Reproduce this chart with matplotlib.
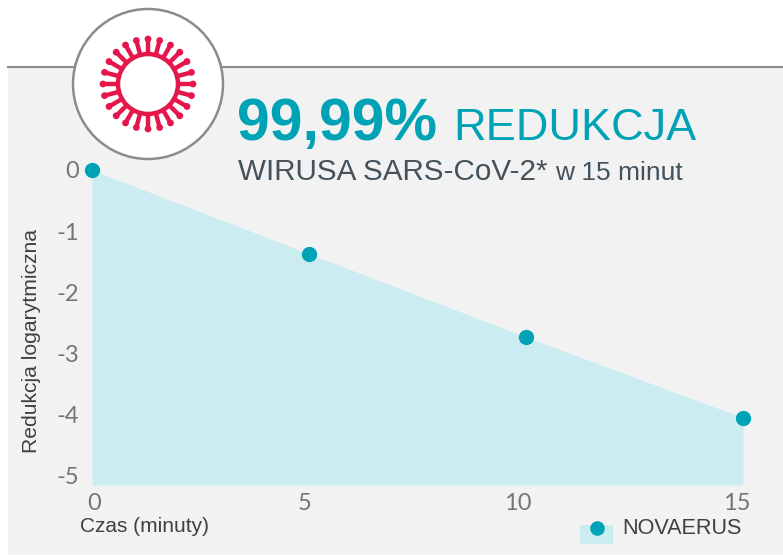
import matplotlib
matplotlib.use("Agg")
import matplotlib.pyplot as plt
import numpy as np
from matplotlib.patches import Circle, Rectangle
from matplotlib.transforms import ScaledTranslation

# data
minutes = [0, 5, 10, 15]
log_reduction = [0, -1.37, -2.73, -4.05]
y_ticks = [0, -1, -2, -3, -4, -5]
y_tick_labels = ["0", "-1", "-2", "-3", "-4", "-5"]
x_tick_labels = ["0", "5", "10", "15"]

W, H = 783, 557
TEAL = "#00A3B5"
FILL = "#CBECF1"
BG = "#F2F2F2"
TEXT = "#404040"
TICK = "#757575"
RED = "#E5174A"


def px_axes(fig, left, top, right, bottom):
    # axes placed by pixel edges of the reference
    return fig.add_axes([left / W, 1 - bottom / H, (right - left) / W, (bottom - top) / H])


def main() -> None:
    fig = plt.figure(figsize=(W / 100, H / 100), dpi=100, facecolor="white")

    # overlay in pixel coordinates for panel, badge and text
    bg = fig.add_axes([0, 0, 1, 1])
    bg.set_xlim(0, W)
    bg.set_ylim(H, 0)
    bg.axis("off")
    bg.add_patch(Rectangle((8, 67), W - 8, 488, fc=BG, ec="none"))
    bg.plot([8, W], [67, 67], color="#8C8C8C", lw=1.5)

    # chart
    ax = px_axes(fig, 92, 170, 743, 485)
    ax.patch.set_alpha(0)
    ax.fill_between(minutes, log_reduction, -5.15, color=FILL, lw=0)
    ax.plot(minutes, log_reduction, "o", color=TEAL, ms=11, mec="none", clip_on=False, zorder=5)
    ax.set_xlim(0, 15)
    ax.set_ylim(-5.15, 0)
    for s in ax.spines.values():
        s.set_visible(False)
    ax.tick_params(length=0)
    ax.set_yticks(y_ticks)
    ax.set_yticklabels(y_tick_labels, family="Lato", fontsize=17, color=TICK)
    ax.tick_params(axis="y", pad=9)
    ax.set_xticks(minutes)
    ax.set_xticklabels(x_tick_labels, family="Lato", fontsize=17, color=TICK)
    ax.tick_params(axis="x", pad=6)
    # the reference labels sit a little off their points
    for lab, dx in zip(ax.get_xticklabels(), [2, -4, -8, -6]):
        lab.set_transform(lab.get_transform() + ScaledTranslation(dx / 100, 0, fig.dpi_scale_trans))

    # badge
    top = fig.add_axes([0, 0, 1, 1])
    top.set_xlim(0, W)
    top.set_ylim(H, 0)
    top.axis("off")
    cx, cy = 148, 84
    top.add_patch(Circle((cx, cy), 75, fc="white", ec="#8C8C8C", lw=1.8))
    top.add_patch(Circle((cx, cy), 30, fc="none", ec=RED, lw=3.2))
    for a in np.linspace(0, 2 * np.pi, 24, endpoint=False):
        c, s = np.cos(a), np.sin(a)
        top.plot([cx + 30 * c, cx + 45 * c], [cy + 30 * s, cy + 45 * s], color=RED, lw=3.2,
                 solid_capstyle="round")
        top.add_patch(Circle((cx + 45 * c, cy + 45 * s), 3.4, fc=RED, ec="none"))

    # headline
    sans = "Liberation Sans"
    top.text(237, 140, "99,99%", family=sans, weight="bold", fontsize=42.5, color=TEAL, va="baseline")
    top.text(453, 140, "REDUKCJA", family=sans, fontsize=32.5, color=TEAL, va="baseline")
    top.text(238, 180, "WIRUSA SARS-CoV-2*", family=sans, fontsize=21.3, color="#44525C", va="baseline")
    top.text(555, 180, "w 15 minut", family=sans, fontsize=19, color="#44525C", va="baseline")

    # axis titles
    top.text(32, 341, "Redukcja logarytmiczna", family=sans, fontsize=15.2, color=TEXT,
             rotation=90, ha="center", va="center")
    top.text(80, 527, "Czas (minuty)", family=sans, fontsize=15, color=TEXT, va="center")

    # legend
    top.add_patch(Rectangle((580, 525), 33, 19, fc=FILL, ec="none"))
    top.plot([597], [528], "o", color=TEAL, ms=10.5, mec="none")
    top.text(622, 529, "NOVAERUS", family=sans, fontsize=15.6, color=TEXT, va="center")

    fig.savefig("out.png", dpi=100)


if __name__ == "__main__":
    main()
